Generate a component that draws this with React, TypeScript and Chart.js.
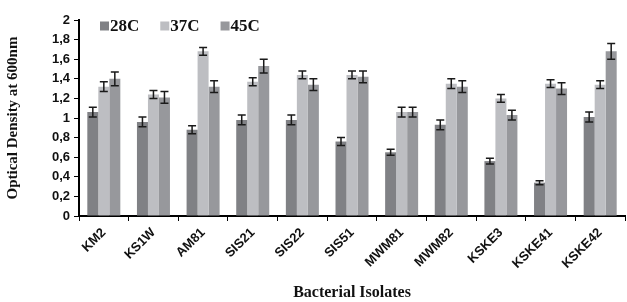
import React, { useEffect, useRef } from "react";
import { Chart, registerables } from "chart.js";

Chart.register(...registerables);

const categories = ["KM2", "KS1W", "AM81", "SIS21", "SIS22", "SIS51", "MWM81", "MWM82", "KSKE3", "KSKE41", "KSKE42"];
const seriesNames = ["28C", "37C", "45C"];
const values28 = [1.06, 0.96, 0.88, 0.98, 0.98, 0.76, 0.65, 0.93, 0.56, 0.34, 1.01];
const values37 = [1.32, 1.24, 1.68, 1.37, 1.44, 1.44, 1.06, 1.35, 1.20, 1.35, 1.34];
const values45 = [1.40, 1.21, 1.32, 1.53, 1.34, 1.42, 1.06, 1.32, 1.03, 1.30, 1.68];
const errors28 = [0.05, 0.05, 0.04, 0.05, 0.05, 0.04, 0.03, 0.05, 0.03, 0.02, 0.05];
const errors37 = [0.05, 0.04, 0.04, 0.04, 0.04, 0.04, 0.05, 0.05, 0.04, 0.04, 0.04];
const errors45 = [0.07, 0.06, 0.06, 0.07, 0.06, 0.06, 0.05, 0.06, 0.05, 0.06, 0.08];
const yTickLabels = ["0", "0,2", "0,4", "0,6", "0,8", "1", "1,2", "1,4", "1,6", "1,8", "2"];
const colors = ["#808185", "#bdbec2", "#97989c"];

const errorBarPlugin = {
  id: "errorBars",
  afterDatasetsDraw(chart: any) {
    const ctx = chart.ctx;
    const yScale = chart.scales.y;
    ctx.save();
    ctx.strokeStyle = "#1a1a1a";
    ctx.lineWidth = 1.5;
    chart.data.datasets.forEach((ds: any, i: number) => {
      const meta = chart.getDatasetMeta(i);
      meta.data.forEach((bar: any, j: number) => {
        const v = ds.data[j];
        const e = ds.errors[j];
        const yTop = yScale.getPixelForValue(v + e);
        const yBot = yScale.getPixelForValue(v - e);
        const x = bar.x;
        const cap = 4;
        ctx.beginPath();
        ctx.moveTo(x, yTop);
        ctx.lineTo(x, yBot);
        ctx.moveTo(x - cap, yTop);
        ctx.lineTo(x + cap, yTop);
        ctx.moveTo(x - cap, yBot);
        ctx.lineTo(x + cap, yBot);
        ctx.stroke();
      });
    });
    ctx.restore();
  },
};

const legendPlugin = {
  id: "insideLegend",
  afterDraw(chart: any) {
    const ctx = chart.ctx;
    const area = chart.chartArea;
    ctx.save();
    ctx.font = "bold 17px 'Liberation Serif', serif";
    ctx.textBaseline = "middle";
    let x = area.left + 21;
    const y = area.top + 6;
    chart.data.datasets.forEach((ds: any) => {
      ctx.fillStyle = ds.backgroundColor;
      ctx.fillRect(x, y - 4.5, 9, 9);
      ctx.fillStyle = "#111";
      ctx.fillText(ds.label, x + 10, y + 1);
      x += 10 + ctx.measureText(ds.label).width + 21;
    });
    ctx.restore();
  },
};

export default function App() {
  const ref = useRef<HTMLCanvasElement>(null);
  useEffect(() => {
    const chart = new Chart(ref.current!, {
      type: "bar",
      data: {
        labels: categories,
        datasets: [
          { label: seriesNames[0], data: values28, errors: errors28, backgroundColor: colors[0] } as any,
          { label: seriesNames[1], data: values37, errors: errors37, backgroundColor: colors[1] } as any,
          { label: seriesNames[2], data: values45, errors: errors45, backgroundColor: colors[2] } as any,
        ],
      },
      options: {
        responsive: false,
        animation: false,
        layout: { padding: { top: 20, right: 2, left: 0, bottom: 0 } },
        datasets: { bar: { categoryPercentage: 0.665, barPercentage: 1.0 } },
        plugins: { legend: { display: false }, tooltip: { enabled: false } },
        scales: {
          x: {
            afterFit: (s: any) => { s.height = 86; },
            grid: { display: true, drawOnChartArea: false, drawTicks: true, tickLength: 5, color: "#000", offset: true },
            border: { color: "#000", width: 2 },
            ticks: {
              color: "#111",
              minRotation: 45,
              maxRotation: 45,
              padding: 4,
              font: { family: "'Liberation Sans', sans-serif", weight: "bold", size: 13 },
            },
            title: {
              display: true,
              text: "Bacterial Isolates",
              color: "#111",
              font: { family: "'Liberation Serif', serif", weight: "bold", size: 16 },
              padding: { top: 0, bottom: 0 },
            },
          },
          y: {
            min: 0,
            max: 2,
            afterFit: (s: any) => { s.width = 79; },
            grid: { display: true, drawOnChartArea: false, drawTicks: true, tickLength: 5, color: "#000" },
            border: { color: "#000", width: 2 },
            ticks: {
              stepSize: 0.2,
              color: "#111",
              padding: 4,
              font: { family: "'Liberation Sans', sans-serif", weight: "bold", size: 13 },
              callback: (_v: any, i: number) => yTickLabels[i],
            },
            title: {
              display: true,
              text: "Optical Density at 600nm",
              color: "#111",
              font: { family: "'Liberation Serif', serif", weight: "bold", size: 15 },
              padding: { top: 4, bottom: 0 },
            },
          },
        },
      },
      plugins: [errorBarPlugin, legendPlugin],
    });
    return () => chart.destroy();
  }, []);
  return (
    <div style={{ position: "fixed", left: 0, top: 0, width: 627, height: 302, background: "#fff" }}>
      <canvas ref={ref} width={627} height={302} />
    </div>
  );
}
